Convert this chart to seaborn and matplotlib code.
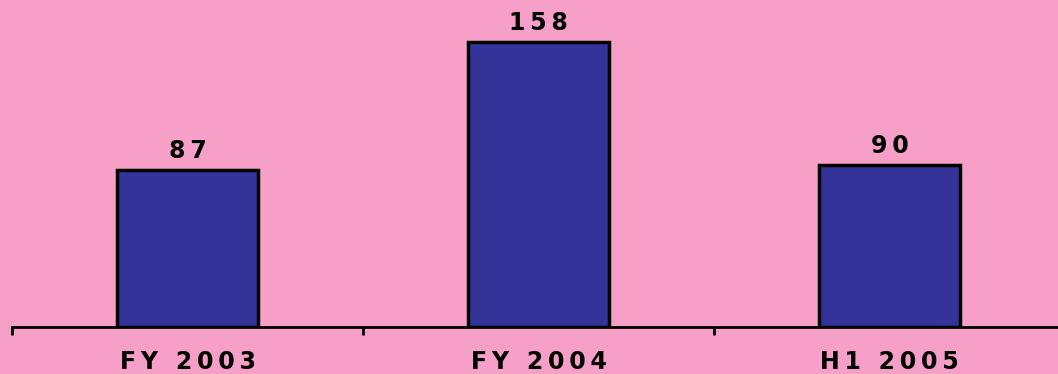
import matplotlib
matplotlib.use("Agg")
import matplotlib.pyplot as plt
import seaborn as sns
import pandas as pd

# Periods and values
periods = ["FY 2003", "FY 2004", "H1 2005"]
values = [87, 158, 90]

bg = "#F69FC7"
bar_color = "#333399"

sns.set_theme(style="white")
plt.rcParams["font.family"] = ["DejaVu Sans"]


def tracked(s):
    """Widen letter spacing with thin spaces between characters."""
    return "\u2009".join(s)


df = pd.DataFrame({"period": periods, "value": values})

fig = plt.figure(figsize=(10.58, 3.74), dpi=100, facecolor=bg)
ax = fig.add_axes([12 / 1058, 47 / 374, 1053 / 1058, 327 / 374])
ax.set_facecolor(bg)

sns.barplot(data=df, x="period", y="value", color=bar_color, saturation=1,
            width=0.4, edgecolor="black", linewidth=2.5, ax=ax)

ax.set_xlim(-0.5, 2.5)
ax.set_ylim(0, 181.3)

for c in ax.containers:
    ax.bar_label(c, labels=[tracked(str(v)) for v in values], padding=5,
                 fontsize=17, fontweight="bold", color="black")

# Boundary ticks between categories; labels sit on minor ticks at bar centres
ax.set_xticks([-0.5, 0.5, 1.5])
ax.set_xticklabels([])
ax.set_xticks([0, 1, 2], minor=True)
ax.set_xticklabels([tracked(p) for p in periods], minor=True,
                   fontsize=17, fontweight="bold")
ax.tick_params(axis="x", which="major", direction="out", length=6, width=2,
               color="black", bottom=True)
ax.tick_params(axis="x", which="minor", length=0, pad=16.5, colors="black")
ax.set_yticks([])
ax.set_xlabel("")
ax.set_ylabel("")

for s in ["top", "left", "right"]:
    ax.spines[s].set_visible(False)
ax.spines["bottom"].set_linewidth(2)
ax.spines["bottom"].set_color("black")

fig.savefig("out.png", dpi=100, facecolor=bg)
